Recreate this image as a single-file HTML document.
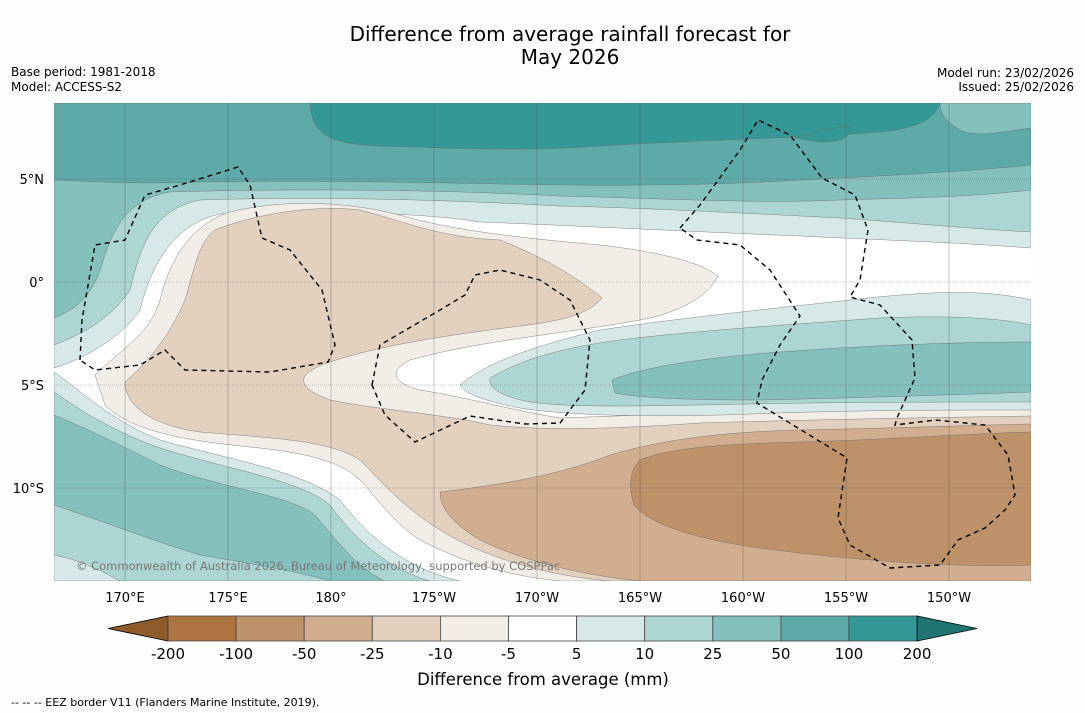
<!DOCTYPE html>
<html><head><meta charset="utf-8"><style>
body{margin:0;background:#fff;font-family:"DejaVu Sans","Liberation Sans",sans-serif;}
#wrap{position:relative;width:1085px;height:713px;overflow:hidden;background:#fefefe;}
</style></head><body>
<div id="wrap">
<svg id="svg" width="1085" height="713" xmlns="http://www.w3.org/2000/svg" font-family="DejaVu Sans, Liberation Sans, sans-serif">
<text x="570" y="41" font-size="20" text-anchor="middle">Difference from average rainfall forecast for</text>
<text x="570" y="64" font-size="20" text-anchor="middle">May 2026</text>
<text x="11" y="76" font-size="12">Base period: 1981-2018</text>
<text x="11" y="91" font-size="12">Model: ACCESS-S2</text>
<text x="1074" y="77" font-size="12" text-anchor="end">Model run: 23/02/2026</text>
<text x="1074" y="91" font-size="12" text-anchor="end">Issued: 25/02/2026</text>
<defs><clipPath id="mc"><rect x="54" y="103" width="977" height="478"/></clipPath></defs>
<g clip-path="url(#mc)">
<rect x="54" y="103" width="977" height="478" fill="#fff"/>
<g stroke="#666" stroke-width="0.4">
<path fill="#d6e9e8" d="M54,103 H1031 V248 C950,242 880,240 800,236 C700,232 560,225 480,222 C420,212 300,210 220,214 C170,225 150,270 140,310 C120,340 80,360 54,368 Z"/>
<path fill="#acd5d4" d="M54,103 H1031 V232 C960,228 900,222 840,218 C760,214 650,208 560,206 C450,200 320,196 200,200 C150,210 140,250 130,290 C110,320 80,335 54,345 Z"/>
<path fill="#84c0be" d="M54,103 H1031 V190 C960,198 900,198 840,200 C760,204 650,198 560,196 C450,190 300,188 170,192 C120,200 110,240 100,270 C90,300 70,312 54,318 Z"/>
<path fill="#5eaaa8" d="M54,103 H1031 V165 C960,172 880,176 800,180 C700,186 600,186 500,184 C400,182 300,180 200,182 C140,184 100,182 54,180 Z"/>
<path fill="#349896" d="M310,103 H940 C935,118 920,128 880,132 C800,138 700,140 600,146 C520,152 450,148 380,146 C330,144 312,135 310,103 Z"/>
<path fill="#84c0be" d="M940,103 H1031 V128 C1000,132 975,138 960,130 C945,122 940,112 940,103 Z"/>
<path fill="#349896" d="M795,138 C820,130 840,126 852,127 C850,138 840,142 820,142 Z"/>
<path fill="#d6e9e8" d="M54,372 C80,390 110,420 160,440 C230,460 300,470 340,500 C370,540 410,570 460,581 H54 Z"/>
<path fill="#acd5d4" d="M54,392 C80,410 110,430 160,448 C230,470 300,480 330,505 C355,540 390,570 430,581 H54 Z"/>
<path fill="#84c0be" d="M54,415 C90,430 120,445 160,465 C220,488 290,495 315,515 C340,545 360,570 385,581 H54 Z"/>
<path fill="#acd5d4" d="M54,505 C100,520 150,540 200,555 C260,565 300,572 330,581 H54 Z"/>
<path fill="#d6e9e8" d="M54,555 C80,560 100,570 120,581 H54 Z"/>
<path fill="#f2ede7" d="M95,375 C120,350 150,335 160,300 C170,260 190,225 230,212 C280,200 340,200 400,215 C450,230 520,238 600,245 C660,252 700,262 718,276 C710,292 690,308 650,318 C580,332 480,340 410,360 C390,370 390,382 420,390 C470,398 520,412 560,418 C640,415 800,410 1031,406 V581 H560 C500,575 460,560 420,540 C390,520 375,495 360,480 C340,460 300,452 250,447 C180,440 130,430 105,405 Z"/>
<path fill="#e3d0bf" d="M125,382 C150,360 170,335 185,300 C195,265 200,240 215,230 C260,212 320,205 360,210 C400,220 440,238 500,240 C550,260 580,280 602,298 C590,312 570,320 520,326 C450,335 380,345 330,362 C300,372 290,385 330,400 C380,410 450,415 490,425 C540,430 600,430 700,423 C800,420 900,418 1031,416 V581 H610 C540,575 480,555 440,530 C400,505 380,480 360,460 C330,440 270,438 200,432 C150,425 125,405 125,382 Z"/>
<path fill="#d0ae8f" d="M440,492 C500,485 560,475 610,455 C660,440 720,432 800,430 C900,428 980,425 1031,424 V581 H640 C580,575 520,560 480,540 C455,525 440,510 440,492 Z"/>
<path fill="#be9268" d="M640,460 C670,448 720,444 800,442 C880,440 960,434 1031,432 V565 C950,568 850,560 760,548 C700,540 650,525 634,505 C628,485 630,470 640,460 Z"/>
<path fill="#d6e9e8" d="M460,385 C490,360 540,345 600,330 C680,318 760,310 850,300 C920,292 980,288 1031,300 V410 C950,410 850,410 750,414 C650,418 560,415 520,408 C490,402 465,395 460,385 Z"/>
<path fill="#acd5d4" d="M490,378 C520,360 560,348 620,340 C700,330 800,324 880,318 C950,315 1000,318 1031,325 V402 C950,402 850,402 750,404 C650,406 570,408 530,402 C500,396 488,388 490,378 Z"/>
<path fill="#84c0be" d="M612,380 C640,368 700,358 780,352 C860,346 950,342 1031,342 V392 C950,395 850,398 760,400 C690,400 640,398 615,393 Z"/>
</g>
<g stroke="#444" stroke-width="0.4" opacity="0.7" id="grid"></g>
<g fill="none" stroke="#000" stroke-width="1.4" stroke-dasharray="5,4">
<path d="M80,360 L82,320 L95,245 L125,240 L145,195 L180,185 L238,167 L250,185 L262,238 L290,250 L322,290 L335,345 L328,362 L270,372 L185,370 L165,350 L140,365 L95,370 Z"/>
<path d="M372,385 L380,345 L440,310 L465,295 L475,275 L500,270 L540,280 L570,300 L590,340 L585,390 L560,423 L525,424 L470,416 L415,442 L385,415 Z"/>
<path d="M680,228 L700,205 L740,150 L758,120 L790,135 L822,178 L855,195 L868,230 L860,280 L850,297 L880,305 L912,340 L915,378 L897,418 L895,425 L935,420 L985,425 L1008,455 L1015,495 L1005,510 L985,528 L958,540 L940,565 L890,568 L850,545 L838,518 L847,458 L757,403 L762,380 L780,345 L800,316 L770,270 L740,245 L697,240 Z"/>
</g>
<text x="76" y="570" font-size="11.5" fill="#777">© Commonwealth of Australia 2026, Bureau of Meteorology, supported by COSPPac</text>
</g>
<g id="axes" font-size="13"></g>
<g id="cbar"></g>
<text x="543" y="685" font-size="16.5" text-anchor="middle">Difference from average (mm)</text>
<text x="11" y="706" font-size="11">--  --  -- EEZ border V11 (Flanders Marine Institute, 2019).</text>
</svg>
</div>
<script>
const lonTicks=[170,175,180,185,190,195,200,205,210];
const lonLabels=["170°E","175°E","180°","175°W","170°W","165°W","160°W","155°W","150°W"];
const latTicks=[5,0,-5,-10];
const latLabels=["5°N","0°","5°S","10°S"];
const binEdges=["-200","-100","-50","-25","-10","-5","5","10","25","50","100","200"];
const binColors=["#ab7440","#be9268","#d0ae8f","#e3d0bf","#f2ede7","#ffffff","#d6e9e8","#acd5d4","#84c0be","#5eaaa8","#349896"];
const NS="http://www.w3.org/2000/svg";
const xLon=l=>125+(l-170)*20.6;
const yLat=l=>282-l*20.6;
const grid=document.getElementById('grid'),axes=document.getElementById('axes'),cb=document.getElementById('cbar');
function mk(tag,attrs,parent){const e=document.createElementNS(NS,tag);for(const k in attrs)e.setAttribute(k,attrs[k]);parent.appendChild(e);return e;}
lonTicks.forEach((l,i)=>{
 const ln=mk('line',{x1:xLon(l),x2:xLon(l),y1:103,y2:581},grid);
 
 
 const t=mk('text',{x:xLon(l),y:602,'text-anchor':'middle'},axes);t.textContent=lonLabels[i];
 
 
});
latTicks.forEach((l,i)=>{
 const ln=mk('line',{x1:54,x2:1031,y1:yLat(l),y2:yLat(l),'stroke-dasharray':'1,1'},grid);
 
 
 const t=mk('text',{x:44,y:yLat(l)+5,'text-anchor':'end'},axes);t.textContent=latLabels[i];
 
 
});
const x0=168,bw=68.1,yt=616,bh=25;
const lt=mk('polygon',{points:`${x0},${yt} ${x0},${yt+bh} 108,${yt+bh/2}`,fill:'#8f5a2a',stroke:'#000','stroke-width':0.8},cb);


binColors.forEach((c,i)=>{
 const r=mk('rect',{x:x0+i*bw,y:yt,width:bw,height:bh,fill:c,stroke:'#444','stroke-width':0.8},cb);
 
 
});
const xe=x0+binColors.length*bw;
const rt=mk('polygon',{points:`${xe},${yt} ${xe},${yt+bh} 977,${yt+bh/2}`,fill:'#207573',stroke:'#000','stroke-width':0.8},cb);


binEdges.forEach((s,i)=>{
 const t=mk('text',{x:x0+i*bw,y:659,'text-anchor':'middle','font-size':15},cb);t.textContent=s;
 
 
});
</script>
</body></html>
